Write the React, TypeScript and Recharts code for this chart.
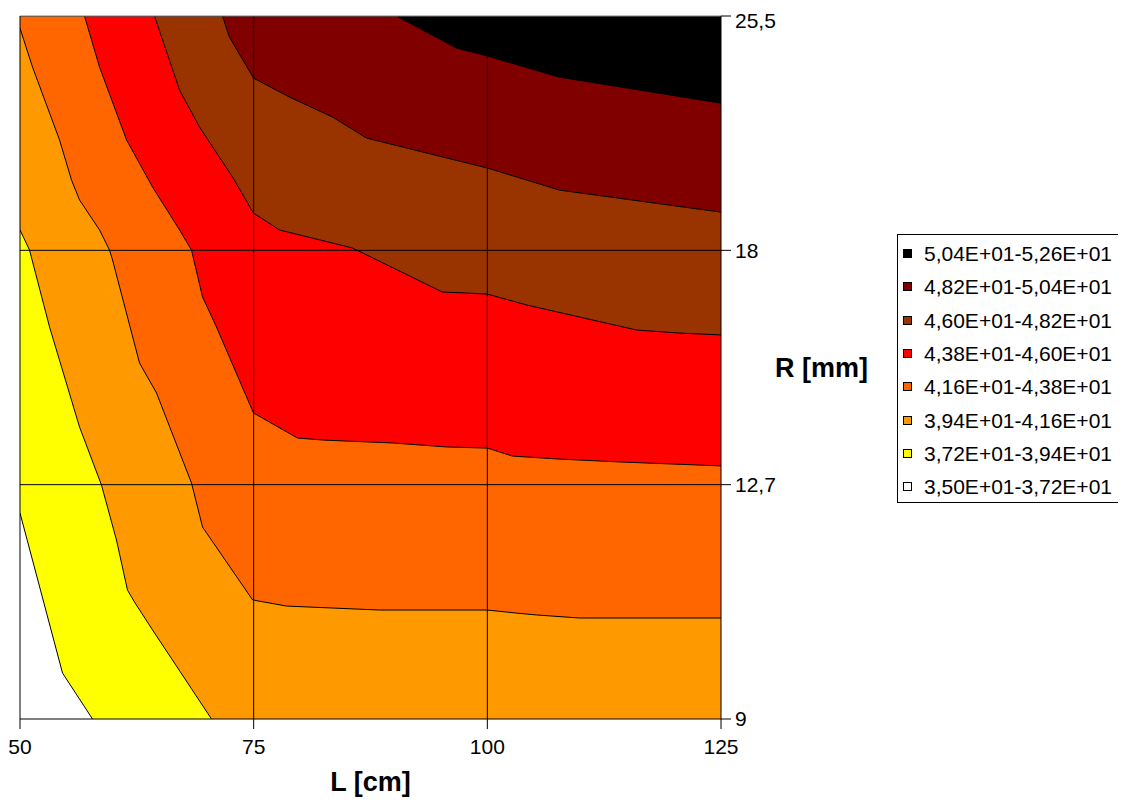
import React from "react";
import {
  ComposedChart,
  Area,
  XAxis,
  YAxis,
  ReferenceLine,
  Legend,
} from "recharts";

// L [cm] axis ticks
const L_TICKS = [50, 75, 100, 125];
// R [mm] categories (evenly spaced positions 0..3)
const R_POSITIONS = [0, 1, 2, 3];
const R_LABELS = ["9", "12,7", "18", "25,5"];

// Contour bands, from highest to lowest
const BAND_LABELS = [
  "5,04E+01-5,26E+01",
  "4,82E+01-5,04E+01",
  "4,60E+01-4,82E+01",
  "4,38E+01-4,60E+01",
  "4,16E+01-4,38E+01",
  "3,94E+01-4,16E+01",
  "3,72E+01-3,94E+01",
  "3,50E+01-3,72E+01",
];
const BAND_COLORS = [
  "#000000",
  "#800000",
  "#993300",
  "#FF0000",
  "#FF6600",
  "#FF9900",
  "#FFFF00",
  "#FFFFFF",
];

// Upper boundary of each band (L, R-position); each band fills down to R = 9
const topEdge = [
  { L: 50, r: 3 },
  { L: 125, r: 3 },
];
const line504 = [
  { L: 50, r: 3 },
  { L: 90.28, r: 3 },
  { L: 96.7, r: 2.863 },
  { L: 100.02, r: 2.829 },
  { L: 107.72, r: 2.739 },
  { L: 125, r: 2.628 },
];
const line482 = [
  { L: 50, r: 3 },
  { L: 71.66, r: 3 },
  { L: 72.41, r: 2.91 },
  { L: 74.98, r: 2.735 },
  { L: 78.83, r: 2.654 },
  { L: 83.43, r: 2.569 },
  { L: 87.07, r: 2.479 },
  { L: 100.02, r: 2.351 },
  { L: 107.72, r: 2.257 },
  { L: 125, r: 2.163 },
];
const line460 = [
  { L: 50, r: 3 },
  { L: 64.39, r: 3 },
  { L: 67.07, r: 2.684 },
  { L: 69.21, r: 2.526 },
  { L: 72.74, r: 2.313 },
  { L: 74.98, r: 2.159 },
  { L: 77.76, r: 2.087 },
  { L: 85.57, r: 2.01 },
  { L: 95.2, r: 1.822 },
  { L: 97.77, r: 1.818 },
  { L: 100.02, r: 1.813 },
  { L: 104.19, r: 1.767 },
  { L: 115.96, r: 1.66 },
  { L: 120.56, r: 1.647 },
  { L: 125, r: 1.639 },
];
const line438 = [
  { L: 50, r: 3 },
  { L: 56.9, r: 3 },
  { L: 58.51, r: 2.782 },
  { L: 61.4, r: 2.471 },
  { L: 64.18, r: 2.27 },
  { L: 67.07, r: 2.087 },
  { L: 68.35, r: 2.001 },
  { L: 69.53, r: 1.801 },
  { L: 71.02, r: 1.673 },
  { L: 74.98, r: 1.306 },
  { L: 79.69, r: 1.199 },
  { L: 82.58, r: 1.19 },
  { L: 89.86, r: 1.178 },
  { L: 95.63, r: 1.161 },
  { L: 100.02, r: 1.156 },
  { L: 102.69, r: 1.122 },
  { L: 107.72, r: 1.109 },
  { L: 114.14, r: 1.097 },
  { L: 125, r: 1.08 },
];
const line416 = [
  { L: 50, r: 2.948 },
  { L: 51.34, r: 2.782 },
  { L: 54.23, r: 2.471 },
  { L: 55.51, r: 2.3 },
  { L: 56.37, r: 2.215 },
  { L: 58.51, r: 2.087 },
  { L: 59.58, r: 2.001 },
  { L: 59.9, r: 1.959 },
  { L: 62.79, r: 1.519 },
  { L: 64.61, r: 1.391 },
  { L: 68.35, r: 1.007 },
  { L: 69.53, r: 0.819 },
  { L: 74.89, r: 0.508 },
  { L: 78.51, r: 0.482 },
  { L: 88.46, r: 0.465 },
  { L: 100.02, r: 0.465 },
  { L: 103.12, r: 0.452 },
  { L: 105.26, r: 0.444 },
  { L: 109.86, r: 0.431 },
  { L: 125, r: 0.431 },
];
const line394 = [
  { L: 50, r: 2.087 },
  { L: 51.02, r: 2.001 },
  { L: 53.16, r: 1.673 },
  { L: 56.37, r: 1.246 },
  { L: 58.72, r: 0.998 },
  { L: 60.32, r: 0.764 },
  { L: 61.5, r: 0.55 },
  { L: 62.25, r: 0.499 },
  { L: 64.18, r: 0.38 },
  { L: 70.49, r: 0 },
];
const line372 = [
  { L: 50, r: 0.879 },
  { L: 54.55, r: 0.196 },
  { L: 57.76, r: 0 },
];

const BAND_LINES = [topEdge, line504, line482, line460, line438, line416, line394, line372];

const FONT = "'Liberation Sans', Arial, sans-serif";

const LegendBox = () => (
  <div
    style={{
      boxSizing: "border-box",
      width: 223,
      height: 269,
      border: "1px solid #000",
      background: "#fff",
      paddingTop: 2,
      fontFamily: FONT,
      fontSize: 21,
      color: "#000",
    }}
  >
    {BAND_LABELS.map((lab, i) => (
      <div
        key={lab}
        style={{ height: 33.3, display: "flex", alignItems: "center", paddingLeft: 5 }}
      >
        <span
          style={{
            display: "inline-block",
            width: 7,
            height: 7,
            border: "1px solid #000",
            background: BAND_COLORS[i],
            marginRight: 12,
          }}
        />
        <span style={{ lineHeight: "21px", whiteSpace: "nowrap" }}>{lab}</span>
      </div>
    ))}
  </div>
);

export default function App() {
  return (
    <ComposedChart
      width={1110}
      height={795}
      margin={{ top: 8, left: 12, right: 347, bottom: 44 }}
      style={{ fontFamily: FONT }}
    >
      <XAxis
        dataKey="L"
        type="number"
        domain={[50, 125]}
        ticks={L_TICKS}
        allowDataOverflow
        height={40}
        axisLine={{ stroke: "#000" }}
        tickLine={{ stroke: "#000" }}
        tickSize={10}
        tickMargin={10}
        tick={{ fill: "#000", fontSize: 21, fontFamily: FONT }}
        label={{
          value: "L [cm]",
          position: "bottom",
          offset: 13,
          style: { fontSize: 27, fontWeight: "bold", fill: "#000", fontFamily: FONT },
        }}
      />
      <YAxis
        type="number"
        orientation="right"
        domain={[0, 3]}
        ticks={R_POSITIONS}
        allowDataOverflow
        width={50}
        axisLine={{ stroke: "#000" }}
        tickLine={{ stroke: "#000" }}
        tickSize={10}
        tickMargin={4}
        tickFormatter={(v: number) => R_LABELS[v] ?? ""}
        tick={{ fill: "#000", fontSize: 21, fontFamily: FONT }}
        label={{
          value: "R [mm]",
          position: "right",
          offset: 4,
          style: { fontSize: 27, fontWeight: "bold", fill: "#000", fontFamily: FONT, textAnchor: "start" },
        }}
      />
      {BAND_LINES.map((d, i) => (
        <Area
          key={BAND_LABELS[i]}
          name={BAND_LABELS[i]}
          data={d}
          dataKey="r"
          type="linear"
          baseValue={0}
          fill={BAND_COLORS[i]}
          fillOpacity={1}
          stroke="#000"
          strokeWidth={1}
          dot={false}
          activeDot={false}
          isAnimationActive={false}
        />
      ))}
      <ReferenceLine x={75} stroke="#000" strokeWidth={1} />
      <ReferenceLine x={100} stroke="#000" strokeWidth={1} />
      <ReferenceLine y={1} stroke="#000" strokeWidth={1} />
      <ReferenceLine y={2} stroke="#000" strokeWidth={1} />
      <ReferenceLine y={3} stroke="#808080" strokeWidth={1} />
      <ReferenceLine x={50} stroke="#000" strokeWidth={1} />
      <Legend
        layout="vertical"
        align="center"
        verticalAlign="middle"
        content={() => <LegendBox />}
        wrapperStyle={{ left: 889, top: 226, width: 223, height: 269 }}
      />
    </ComposedChart>
  );
}
